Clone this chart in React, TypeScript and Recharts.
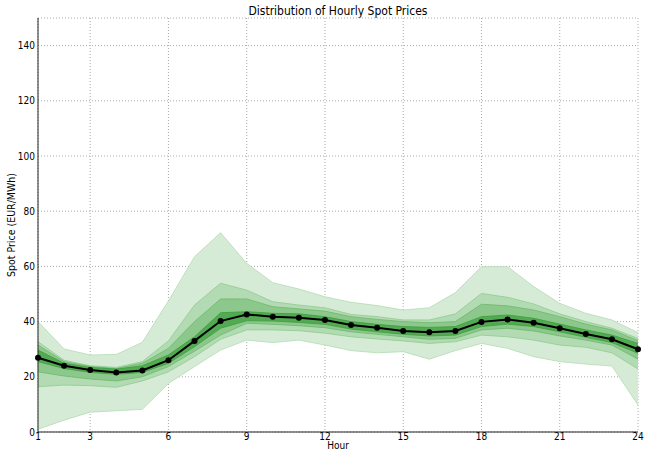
import React from "react"
import { ComposedChart, Area, Line, XAxis, YAxis, CartesianGrid } from "recharts"

const hours = [1, 2, 3, 4, 5, 6, 7, 8, 9, 10, 11, 12, 13, 14, 15, 16, 17, 18, 19, 20, 21, 22, 23, 24]
const median = [26.9, 24, 22.5, 21.6, 22.3, 26, 33, 40.2, 42.6, 41.8, 41.4, 40.6, 38.8, 37.8, 36.6, 36.1, 36.6, 39.9, 40.8, 39.6, 37.6, 35.5, 33.6, 30]
const pMax = [40, 30.1, 27.9, 28.1, 32.5, 47.5, 63.5, 72.2, 61.1, 54.1, 51.8, 49, 47, 45.8, 44.2, 45, 50.5, 59.9, 59.9, 52.7, 46.6, 43, 40.6, 36]
const pMin = [1, 4.3, 7.2, 7.7, 8.2, 17.6, 23.7, 29.7, 33.3, 32.4, 33.3, 31.5, 29.5, 28.7, 29.1, 26.4, 29.5, 32.1, 30.3, 27.3, 25.5, 24.6, 23.9, 9.8]
const p90 = [32.7, 26, 24, 23.4, 25.5, 33, 46, 53.9, 51.4, 47.2, 46, 45, 42.6, 41.8, 40.6, 40.6, 42.8, 50.2, 48.8, 46.4, 42.8, 40, 37.6, 33.9]
const p10 = [16.4, 17, 16.8, 16.2, 18.5, 21.8, 27.3, 33.6, 37, 37, 36.7, 35.8, 34.5, 33.7, 33, 32.1, 32.7, 35.1, 34.5, 33.3, 31.5, 30.7, 28.7, 22.8]
const p75 = [31.5, 25.5, 23.7, 23, 24.9, 30.3, 40, 48.2, 48.2, 45.4, 44.6, 43.8, 41.8, 40.8, 40, 39.6, 40, 46.3, 45.7, 44.2, 41.8, 39.1, 37, 33.1]
const p25 = [21.8, 20.3, 19.2, 18.5, 20, 23.7, 29.3, 35.1, 39.4, 39, 38.5, 37.8, 36.3, 35.4, 34.5, 33.6, 33.9, 37, 37.6, 36.6, 34.8, 33.3, 31.5, 26.4]
const p60 = [29.7, 24.9, 23.4, 22.8, 24, 27.9, 34.5, 43.2, 43.6, 43, 42.8, 41.8, 40, 39, 38.2, 37.9, 38.2, 41.8, 42.4, 41.2, 39.1, 37, 35.1, 32.1]
const p40 = [25.5, 23, 21.6, 20.9, 21.6, 24.9, 30.9, 37.6, 40.3, 40.2, 39.7, 39, 37.3, 36.3, 35.4, 34.8, 35.1, 38.2, 39.1, 38.2, 36.3, 34.3, 32.4, 28.5]

const xTicks = [1, 3, 6, 9, 12, 15, 18, 21, 24]
const yTicks = [0, 20, 40, 60, 80, 100, 120, 140]

const data = hours.map((h, i) => ({
  hour: h,
  outer: [pMin[i], pMax[i]],
  band90: [p10[i], p90[i]],
  band75: [p25[i], p75[i]],
  band60: [p40[i], p60[i]],
  median: median[i],
}))

const FONT = "'Liberation Sans Narrow', 'DejaVu Sans Condensed', 'DejaVu Sans', sans-serif"
const tickStyle = { fontSize: 10, fill: "#000", fontFamily: FONT }

export default function App() {
  return (
    <div style={{ position: "absolute", left: 0, top: 0, width: 645, height: 452, background: "#fff" }}>
      <div
        style={{
          position: "absolute",
          left: 38,
          width: 600,
          top: 4,
          textAlign: "center",
          fontFamily: FONT,
          fontSize: 12,
          color: "#000",
        }}
      >
        Distribution of Hourly Spot Prices
      </div>
      <ComposedChart width={645} height={452} data={data} margin={{ top: 18, right: 7, bottom: 0, left: 0 }}>
        <CartesianGrid strokeDasharray="1 2" stroke="#aaa" />
        <XAxis
          dataKey="hour"
          type="number"
          domain={[1, 24]}
          ticks={xTicks}
          tickLine={false}
          tickSize={0}
          tickMargin={1}
          height={20}
          stroke="#222"
          tick={tickStyle}
          label={{ value: "Hour", position: "insideBottom", offset: 3, style: { fontSize: 10, fill: "#000", fontFamily: FONT } }}
        />
        <XAxis xAxisId="top" orientation="top" dataKey="hour" type="number" domain={[1, 24]} height={0} tick={false} tickLine={false} stroke="#222" />
        <YAxis
          type="number"
          domain={[0, 150]}
          ticks={yTicks}
          tickLine={false}
          tickSize={0}
          tickMargin={3}
          width={38}
          stroke="#222"
          tick={tickStyle}
          label={{ value: "Spot Price (EUR/MWh)", angle: -90, position: "insideLeft", offset: 11, style: { textAnchor: "middle", fontSize: 10.5, fill: "#000", fontFamily: FONT } }}
        />
        <YAxis yAxisId="right" orientation="right" domain={[0, 150]} width={0} tick={false} tickLine={false} stroke="#222" />
        <Area dataKey="outer" fill="#d6ebd6" fillOpacity={1} stroke="#b4dab4" strokeWidth={0.8} isAnimationActive={false} />
        <Area dataKey="band90" fill="#b3dbb3" fillOpacity={1} stroke="#8fca8f" strokeWidth={0.8} isAnimationActive={false} />
        <Area dataKey="band75" fill="#8cc88c" fillOpacity={1} stroke="#6cb86c" strokeWidth={0.8} isAnimationActive={false} />
        <Area dataKey="band60" fill="#52ab52" fillOpacity={1} stroke="#3f9c3f" strokeWidth={0.8} isAnimationActive={false} />
        <Line
          dataKey="median"
          stroke="#000"
          strokeWidth={2}
          dot={{ r: 3, fill: "#000", stroke: "#000", strokeWidth: 0 }}
          isAnimationActive={false}
        />
      </ComposedChart>
    </div>
  )
}
